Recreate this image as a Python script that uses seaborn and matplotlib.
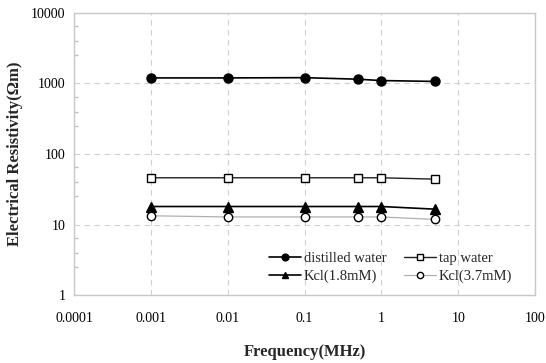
import numpy as np
import pandas as pd
import matplotlib
matplotlib.use("Agg")
import matplotlib.pyplot as plt
import seaborn as sns
from matplotlib.ticker import LogLocator, FixedLocator, FixedFormatter, NullFormatter

# ---- data ----
freq = [0.001, 0.01, 0.1, 0.5, 1, 5]
distilled = [1200, 1200, 1210, 1150, 1100, 1070]
tap = [46, 46, 46, 46, 46, 44]
kcl_18 = [18, 18, 18, 18, 18, 16.5]
kcl_37 = [13.3, 12.8, 12.8, 12.8, 12.8, 11.8]
series_names = ["distilled water", "tap water", "Kcl(1.8mM)", "Kcl(3.7mM)"]
x_ticks = [0.0001, 0.001, 0.01, 0.1, 1, 10, 100]
x_labels = ["0.0001", "0.001", "0.01", "0.1", "1", "10", "100"]
y_ticks = [1, 10, 100, 1000, 10000]
y_labels = ["1", "10", "100", "1000", "10000"]

df = pd.DataFrame({
    "freq": freq * 4,
    "val": distilled + tap + kcl_18 + kcl_37,
    "series": sum([[n] * len(freq) for n in series_names], []),
})

sns.set_theme(style="white")
plt.rcParams["font.family"] = ["Liberation Serif", "DejaVu Serif"]

fig = plt.figure(figsize=(5.46, 3.63), dpi=100)
ax = fig.add_axes([0.1355, 0.1873, 0.8445, 0.7769])

styles = {
    "distilled water": dict(color="black", marker="o", markerfacecolor="black",
                            markeredgecolor="black", markersize=6.5, linewidth=1.2),
    "tap water": dict(color="#222222", marker="s", markerfacecolor="white",
                      markeredgecolor="black", markersize=6, linewidth=1.0),
    "Kcl(1.8mM)": dict(color="black", marker="^", markerfacecolor="black",
                       markeredgecolor="black", markersize=6.5, linewidth=1.2),
    "Kcl(3.7mM)": dict(color="#b0b0b0", marker="o", markerfacecolor="white",
                       markeredgecolor="black", markersize=6, linewidth=0.9),
}
for name in series_names:
    sub = df[df["series"] == name]
    st = styles[name]
    sns.lineplot(data=sub, x="freq", y="val", ax=ax, label=name,
                 color=st["color"], marker=st["marker"],
                 markerfacecolor=st["markerfacecolor"],
                 markeredgecolor=st["markeredgecolor"],
                 markeredgewidth=1.0, markersize=st["markersize"],
                 linewidth=st["linewidth"], zorder=3)

ax.set_xscale("log")
ax.set_yscale("log")
ax.set_xlim(0.0001, 100)
ax.set_ylim(1, 10000)

ax.xaxis.set_major_locator(FixedLocator(x_ticks))
ax.xaxis.set_major_formatter(FixedFormatter(x_labels))
ax.xaxis.set_minor_formatter(NullFormatter())
ax.xaxis.set_minor_locator(FixedLocator([]))
ax.yaxis.set_major_locator(FixedLocator(y_ticks))
ax.yaxis.set_major_formatter(FixedFormatter(y_labels))
ax.yaxis.set_minor_locator(LogLocator(base=10, subs=(2.5, 4.0, 6.5)))
ax.yaxis.set_minor_formatter(NullFormatter())

ax.grid(True, which="major", axis="both", linestyle=(0, (5, 4)),
        color="#d0d0d0", linewidth=0.8)
ax.set_axisbelow(True)
for s in ax.spines.values():
    s.set_color("#c8c8c8")
    s.set_linewidth(1.0)
    s.set_visible(True)

ax.tick_params(axis="x", which="both", length=0, labelsize=10, pad=12, colors="black")
ax.tick_params(axis="y", which="major", length=0, labelsize=10, pad=6, colors="black")
ax.tick_params(axis="y", which="minor", length=3, direction="in", color="#c0c0c0", left=True)

ax.set_xlabel("Frequency(MHz)", fontsize=12, fontweight="bold", labelpad=14)
ax.set_ylabel("Electrical Resistivity(\u03a9m)", fontsize=12, fontweight="bold", labelpad=6)

handles, labels = ax.get_legend_handles_labels()
hmap = dict(zip(labels, handles))
order = ["distilled water", "Kcl(1.8mM)", "tap water", "Kcl(3.7mM)"]
leg = ax.legend([hmap[k] for k in order], order, loc="upper left",
                bbox_to_anchor=(0.41, 0.175), ncol=2, frameon=False,
                fontsize=10.5, handlelength=2.2, columnspacing=1.2, handletextpad=0.2,
                labelspacing=0.35, borderaxespad=0.0, markerscale=0.75)

fig.savefig("out.png", dpi=100)
